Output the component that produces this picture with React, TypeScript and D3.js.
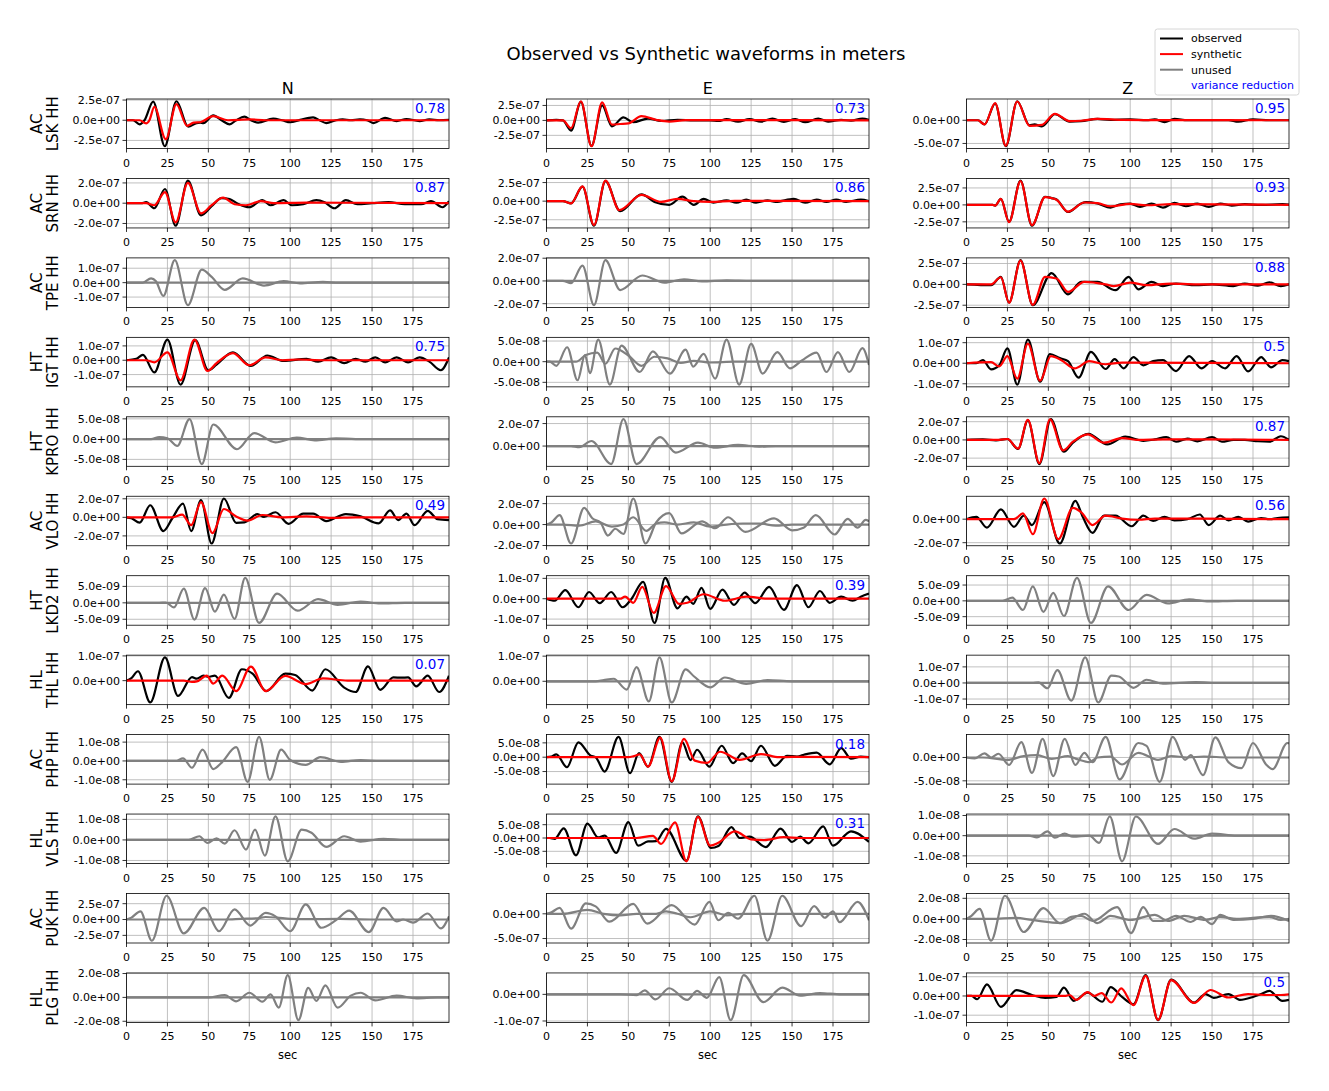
import React from "react";
import * as d3 from "d3";

// waveform samples are flat lists: t0, v0, t1, v1, ... (t in sec, v in units of 10^ampExponent m)
type Series = number[];

const components = ["N", "E", "Z"];
const networks = ["AC", "AC", "AC", "HT", "HT", "AC", "HT", "HL", "AC", "HL", "AC", "HL"];
const stations = ["LSK", "SRN", "TPE", "IGT", "KPRO", "VLO", "LKD2", "THL", "PHP", "VLS", "PUK", "PLG"];
const channel = "HH";

// variance reduction per station [N, E, Z]; null = component not used
const varianceReduction: (number | null)[][] = [
  [0.78, 0.73, 0.95],
  [0.87, 0.86, 0.93],
  [null, null, 0.88],
  [0.75, null, 0.5],
  [null, null, 0.87],
  [0.49, null, 0.56],
  [null, 0.39, null],
  [0.07, null, null],
  [null, 0.18, null],
  [null, 0.31, null],
  [null, null, null],
  [null, null, 0.5],
];

const ampExponent = [
  [-7, -7, -7], [-7, -7, -7], [-7, -7, -7], [-7, -8, -7], [-8, -7, -7], [-7, -7, -7],
  [-9, -7, -9], [-7, -7, -7], [-8, -8, -8], [-8, -8, -8], [-7, -7, -8], [-8, -7, -7],
];
const yTickStep = [
  [2.5, 2.5, 5], [2, 2.5, 2.5], [1, 2, 2.5], [1, 5, 1], [5, 2, 2], [2, 2, 2],
  [5, 1, 5], [1, 1, 1], [1, 5, 5], [1, 5, 1], [2.5, 5, 2], [2, 1, 1],
];
const xTicks = [0, 25, 50, 75, 100, 125, 150, 175];
const timeMax = 197;

const flat: Series = [0, 0, 197, 0];

const obsLSK: Series[] = [
  [0, 0, 4, 0, 8, -0.5, 11, 0, 16.3, 2.3, 23.4, -3.22, 30.5, 2.35, 37.7, -0.8, 42.8, -0.35, 45, -0.3, 47, -0.35, 53, 0.6, 58, 0, 63, -0.5, 67, 0, 72, 0.45, 76, 0, 80.4, -0.3, 89.6, 0.2, 95, 0, 100, -0.25, 106, 0.05, 114, 0.35, 118, 0, 122, -0.35, 128, 0, 132, 0.1, 137, 0, 142.6, 0.1, 147, 0, 151, -0.35, 158, 0.3, 165, -0.1, 171, 0.15, 179, -0.1, 185, 0.1, 191, 0, 197, 0.05],
  [0, 0, 6, 0.1, 10, 0, 15, -1.7, 21, 3.1, 27.5, -4.25, 34, 2.5, 40, -1.0, 47, 0.5, 53, -0.3, 62, 0.3, 70, -0.1, 80, 0.1, 90, 0, 100, 0, 105, -0.1, 110, 0.2, 117, -0.2, 124, 0.2, 131, -0.2, 138, 0.3, 145, -0.25, 152, 0.2, 158, -0.3, 166, 0.3, 172, -0.2, 180, 0.1, 186, -0.05, 193, 0.3, 197, 0.1],
  [0, 0, 7, 0, 11, -0.9, 17.5, 3.6, 24, -5.6, 31, 4.1, 38.5, -1.1, 41.5, -0.9, 46, -1.3, 54, 1.3, 63, -0.3, 70, -0.2, 80, 0.3, 88, 0.1, 100, 0.2, 110, 0, 115, 0.2, 121, -0.4, 127, 0.3, 135, 0, 150, 0, 160, 0.05, 166, -0.3, 175, 0.2, 185, 0, 197, 0],
];
const synLSK: Series[] = [
  [0, 0, 8, 0, 12, -0.4, 14, 0, 17, 1.65, 24, -2.35, 30.5, 2.0, 37, -0.7, 41, -0.3, 45, -0.25, 53, 0.5, 62, 0, 75, 0.1, 85, 0, 197, 0],
  [0, 0, 10, 0, 15, -1.3, 21, 3.2, 27.5, -4.32, 34, 3.0, 40, -0.7, 45, -0.6, 50, -0.5, 58, 0.7, 67, 0.1, 75, -0.2, 85, 0.05, 110, 0.05, 197, 0],
  [0, 0, 7, 0, 11, -0.9, 17.5, 3.7, 24, -5.5, 31, 4.05, 38.5, -1.2, 46, -1.0, 54, 1.4, 63, -0.2, 70, -0.1, 80, 0.3, 95, 0.1, 110, 0.05, 197, 0],
];

const obsSRN: Series[] = [
  [0, 0, 9, 0, 12, 0.1, 17, -0.5, 23.5, 1.4, 30, -2.22, 37.5, 2.22, 45.5, -1.2, 52, -0.3, 58, 0.5, 63, 0.4, 68, -0.05, 75, -0.4, 83, 0.3, 88, -0.2, 96, 0.3, 101, -0.2, 108, -0.1, 116, 0.3, 121, 0.1, 127, -0.5, 134, 0.3, 141, -0.1, 150, 0, 160, 0.1, 170, -0.1, 180, -0.1, 186, 0.2, 193, -0.4, 197, 0.2],
  [0, 0, 10, 0, 15, -0.3, 22, 1.95, 29, -3.3, 36, 2.7, 45, -1.35, 58, 0.9, 66, -0.1, 75, -0.5, 83, 0.6, 90, -0.5, 96, 0.3, 102, -0.2, 110, 0.1, 116, -0.2, 122, 0.2, 128, -0.2, 135, 0.1, 140, -0.1, 151, 0.3, 158, -0.2, 165, 0.2, 171, -0.1, 177, 0.2, 183, -0.1, 192, 0.2, 197, 0],
  [0, 0, 16, 0, 17.5, -0.1, 21, 0.9, 26, -2.5, 33, 3.57, 40, -3.07, 48, 1.2, 52, 1.0, 55, 0.8, 62, -1.05, 70, 0.2, 73, 0.4, 80, 0.2, 88, -0.4, 94, 0.1, 100, 0.2, 106, -0.3, 113, 0.2, 120, -0.4, 127, 0.3, 134, -0.2, 141, 0.2, 148, -0.3, 155, 0.2, 162, -0.1, 170, 0.1, 180, 0, 193, 0.1, 197, 0.05],
];
const synSRN: Series[] = [
  [0, 0, 12, 0, 17, -0.2, 23.5, 1.1, 30, -1.9, 37.5, 2.0, 45.5, -1.0, 52, -0.2, 59, 0.55, 66, -0.1, 73, -0.2, 82, 0.2, 90, 0, 110, 0.05, 197, 0],
  [0, 0, 10, 0, 15, -0.3, 22, 2.0, 29, -3.2, 36, 2.75, 44.5, -1.2, 58, 0.85, 70, -0.1, 80, 0.3, 90, 0, 100, -0.1, 115, 0.05, 197, 0],
  [0, 0, 16, 0, 17.5, -0.1, 21, 0.9, 26, -2.55, 33, 3.5, 40, -3.0, 48, 1.15, 52, 1.0, 55, 0.75, 62, -1.0, 72, 0.35, 80, 0.25, 88, -0.2, 100, 0.15, 110, -0.05, 125, 0.1, 197, 0],
];

const obsTPE: Series[] = [
  [0, 0, 10, 0, 15, 0.3, 18, 0.1, 22.5, -0.92, 29.5, 1.56, 37.5, -1.56, 46, 0.9, 52, 0.4, 60, -0.5, 71, 0.3, 84, -0.2, 96, 0.1, 106, -0.05, 120, 0.05, 130, 0, 197, 0],
  [0, 0, 10, 0, 15, -0.2, 22, 1.35, 29, -2.13, 36, 1.83, 45, -0.8, 58.5, 0.48, 72, -0.15, 84, 0.15, 95, -0.05, 110, 0.05, 125, 0, 197, 0],
  [0, 0, 15, -0.1, 21, 0.9, 26, -2.2, 33, 2.9, 40.5, -2.49, 52, 1.35, 62, -1.2, 70, 0.3, 80, 0.3, 91, -0.7, 99, 0.9, 105, -0.6, 113, 0.3, 120, -0.2, 128, 0.1, 140, -0.1, 150, 0, 163, -0.2, 170, 0.1, 178, -0.15, 185, 0.25, 192, -0.2, 197, 0],
];
const synTPE: Series[] = [
  flat,
  flat,
  [0, 0, 15, 0, 21, 0.85, 26, -2.2, 33, 2.85, 40.5, -2.45, 48, 0.9, 55, 0.7, 62, -0.9, 72, 0.3, 85, 0, 90, -0.2, 100, 0.2, 110, -0.1, 125, 0.1, 140, 0, 197, 0],
];

const obsIGT: Series[] = [
  [0, 0, 6, 0.1, 10, 0.38, 17, -0.85, 25, 1.44, 33, -1.7, 42, 1.4, 50, -0.7, 55, -0.3, 65, 0.55, 76, -0.4, 86, 0.33, 96, -0.05, 110, 0.1, 117, -0.1, 125, 0.2, 133, -0.2, 140, 0.1, 146, -0.1, 152, 0.2, 158, -0.15, 165, 0.2, 172, -0.15, 179, 0.2, 185, -0.1, 192, -0.7, 197, 0.2],
  [0, 0, 2, 0, 6, -1.0, 12.6, 3.5, 19, -4.5, 23.5, 1.6, 26.5, -2.8, 31.6, 5.35, 38.7, -5.55, 45.8, 3.9, 57, -2.5, 65, 2.5, 75.4, -2.9, 85, 2.9, 89.6, -1.2, 96, 1.9, 103, -4.1, 110, 5.35, 117.7, -5.55, 125, 4.3, 132, -2.9, 141, 2.3, 148.7, -1.6, 156, 0.3, 165, 2.2, 171, -2.5, 178, 2.3, 185, -2.5, 193, 3.3, 197, -0.8],
  [0, 0, 6, 0, 10, 0.15, 15, -0.3, 20, -0.1, 25, 0.72, 31, -1.04, 37.5, 1.15, 45, -0.9, 51, 0.45, 57, 0.25, 62, 0.1, 68.5, -0.7, 76, 0.55, 85, -0.28, 90.5, 0.2, 96, -0.25, 102, 0.3, 108, -0.1, 114, 0.1, 120, 0.15, 128, -0.38, 136, 0.35, 143.5, -0.25, 150, 0.1, 158, -0.25, 165, 0.35, 172, -0.4, 180, 0.3, 186, -0.2, 193, 0.15, 197, 0.1],
];
const synIGT: Series[] = [
  [0, 0, 12, 0, 17, -0.15, 25, 0.55, 33, -1.4, 41.5, 1.44, 49.5, -0.75, 55, -0.2, 65, 0.5, 75, -0.35, 85, 0.2, 95, 0, 105, 0.05, 120, 0, 197, 0],
  [0, 0, 18, 0, 24, 1.6, 31, 2.2, 36, -0.5, 42, 3.2, 50, 1.5, 58, -1.0, 66, 1.2, 74, 0.8, 82, -0.3, 90, 0.2, 100, -0.2, 115, 0, 197, 0],
  [0, 0, 15, 0.05, 20, -0.15, 25, 0.35, 31, -0.75, 37.5, 0.95, 45, -0.85, 51.5, 0.35, 58, 0.15, 66, -0.25, 75, 0.1, 85, -0.05, 95, 0.03, 197, 0],
];

const obsKPRO: Series[] = [
  [0, 0, 15, 0, 20, 0.5, 25, 0.2, 31, -1.7, 38.5, 4.95, 46, -6.15, 53, 3.6, 67.5, -2.5, 78, 1.5, 91, -0.8, 104, 0.4, 115, -0.3, 128, 0.2, 140, 0, 197, 0],
  [0, 0, 15, 0, 20, -0.1, 27.5, 0.45, 39.5, -1.6, 47, 2.4, 55, -1.6, 69.5, 0.8, 79, -0.58, 92.5, 0.3, 103, -0.15, 117, 0.1, 130, -0.05, 140, 0, 197, 0],
  [0, 0, 10, 0.05, 18, -0.05, 25, 0.1, 31.5, -1.0, 37.5, 2.15, 44.5, -2.65, 51.5, 2.29, 59.5, -1.3, 65, -0.3, 74.5, 0.67, 86, -0.5, 97, 0.35, 108, -0.1, 115, 0.05, 122, 0.3, 128, -0.2, 135, 0.15, 141, -0.15, 150, 0.3, 156, -0.2, 163, 0, 170, 0, 178, -0.15, 185, -0.2, 192, 0.4, 197, 0],
];
const synKPRO: Series[] = [
  flat,
  flat,
  [0, 0, 20, 0, 25, 0.1, 31.5, -0.95, 37.5, 2.2, 44.5, -2.55, 51, 2.25, 59, -1.15, 65, -0.2, 74, 0.6, 84, -0.3, 95, 0.2, 105, 0, 120, 0.05, 150, 0.05, 197, 0],
];

const obsVLO: Series[] = [
  [0, 0, 3, -0.1, 8, -0.58, 14.5, 1.3, 22.5, -1.48, 28, -0.1, 34.5, 1.48, 39.5, -1.48, 45.5, 1.85, 52, -2.82, 59.5, 2.03, 67, -0.6, 72, -0.55, 80, 0.35, 84, 0.05, 91, 0.55, 99, -0.7, 108, 0.4, 114, 0.4, 122, -0.4, 134, 0.35, 143, 0.1, 154, -0.65, 161, 0.75, 166, -0.3, 171, 0.4, 176, -0.85, 184, 0.7, 190, -0.2, 197, -0.3],
  [0, 0, 3, 0.2, 8, 0.9, 15, -1.81, 23, 1.6, 28, 0.6, 33, 0.2, 37.5, -1.05, 42, -0.4, 47, -0.9, 53, 2.49, 60.5, -1.81, 67, 0.2, 75, 1.1, 82.5, -0.85, 95, 0.3, 103, -0.35, 111, 0.7, 121.5, -0.7, 139, 0.6, 150, -0.55, 157, -0.3, 164.5, 0.9, 176, -0.95, 184, 0.55, 190, -0.3, 195, 0.45, 197, 0.3],
  [0, 0, 6, 0.2, 12.5, -0.72, 21, 0.83, 29, -0.65, 35, 0.3, 40, -0.5, 47.5, 1.45, 57, -2.07, 66.5, 1.55, 71, 0.2, 77, -1.17, 84, 0.3, 91, 0.3, 101, -0.6, 108, 0.3, 114, -0.15, 121, 0.2, 127, -0.1, 135, 0, 142.5, 0.4, 148, -0.5, 155, 0.3, 160, -0.1, 166, 0.2, 172, -0.2, 180, 0.1, 185, 0, 190, 0.1, 197, 0.15],
];
const synVLO: Series[] = [
  [0, 0, 28, 0, 34, 0.3, 39.5, -0.85, 45.5, 1.65, 52.5, -1.7, 59.5, 0.9, 67, 0.1, 74, -0.35, 83, 0.25, 95, 0, 110, 0.1, 125, -0.05, 140, 0, 197, 0],
  [0, 0, 10, 0, 20, -0.1, 30, 0.3, 40, -0.2, 47, 0, 53, 0.7, 61, -0.6, 67, 0.1, 72, 0.2, 80, 0, 90, 0.2, 100, -0.2, 110, 0, 120, 0.1, 130, 0.1, 140, -0.1, 150, 0, 197, 0],
  [0, 0, 28, 0, 30, 0.05, 34.5, 0.5, 40.5, -1.28, 47.5, 1.76, 56, -1.7, 65, 0.97, 70, 0.6, 77, -0.5, 85, 0.3, 95, 0.05, 105, -0.05, 115, 0.05, 197, 0],
];

const obsLKD2: Series[] = [
  [0, 0, 20, 0, 24, 0.1, 29, -1.4, 35, 4.3, 41.5, -5.1, 48, 4.5, 54, -2.7, 59.5, 2.5, 66, -4.9, 72.5, 7.57, 81, -6.12, 92, 2.8, 104.5, -2.4, 117, 1.1, 129, -0.6, 143, 0.4, 155, -0.2, 170, 0, 197, 0],
  [0, 0, 5, -0.1, 11.5, 0.42, 19.5, -0.42, 26, 0.33, 32.5, -0.22, 39.5, 0.33, 46.5, -0.42, 52, 0, 59, 0.83, 66, -1.19, 72.5, 1.02, 80, -0.47, 85.5, 0.1, 89.6, -0.25, 94.7, 0.53, 100, -0.5, 107.5, 0.45, 114.5, -0.3, 121, 0.3, 127.5, -0.22, 136, 0.58, 145, -0.55, 153, 0.67, 160, -0.42, 167, 0.38, 173, -0.2, 180, 0.1, 187, -0.1, 192, 0.1, 197, 0.25],
  [0, 0, 22, 0, 28, 1.0, 34.5, -2.9, 40.5, 4.6, 47, -3.5, 53, 2.5, 59.5, -4.8, 67.5, 7.24, 76, -6.99, 86.5, 4.6, 99, -2.9, 110, 1.9, 123, -0.8, 136, 0.5, 148, -0.2, 165, 0, 197, 0],
];
const synLKD2: Series[] = [
  flat,
  [0, 0, 45, 0, 48, 0.1, 53, -0.2, 58.5, 0.58, 65.5, -0.7, 73, 0.62, 81, -0.25, 86, -0.2, 96, 0.22, 109, -0.1, 122, 0.1, 135, 0, 197, 0],
  flat,
];

const obsTHL: Series[] = [
  [0, 0, 3, 0.1, 7, 0.38, 14.5, -0.88, 23.5, 0.94, 31.5, -0.62, 40, 0.14, 43, 0.08, 47, 0.2, 50, 0.15, 54, 0.2, 62.5, -0.7, 70.5, 0.46, 77, 0.28, 85.5, -0.42, 97, 0.28, 103, 0.23, 113.5, -0.4, 121.5, 0.46, 133, -0.28, 140, -0.46, 147.5, 0.58, 155, -0.37, 163, 0.13, 168, 0.12, 172, 0.13, 177, -0.23, 184, 0.2, 191, -0.46, 197, 0.2],
  [0, 0, 30, 0, 35, 0.05, 41, 0.1, 49, -0.33, 55, 0.56, 62.5, -0.8, 69, 0.95, 76.5, -0.84, 85, 0.47, 90, 0.2, 100, -0.24, 109, 0.15, 122, -0.1, 135, 0.05, 150, 0, 197, 0],
  [0, 0, 40, 0, 44, 0.03, 49.5, -0.33, 55.5, 0.8, 64, -1.1, 72.5, 1.59, 80.5, -1.21, 88.5, 0.45, 93, 0.4, 102, -0.3, 110, 0.2, 120, -0.05, 140, 0.05, 155, 0, 197, 0],
];
const synTHL: Series[] = [
  [0, 0, 35, 0, 40, -0.05, 43, -0.03, 49, 0.2, 53, -0.12, 58.5, 0.2, 67, -0.42, 76, 0.57, 85, -0.42, 97, 0.19, 109.5, -0.14, 120, 0.09, 135, 0, 197, 0],
  flat,
  flat,
];

const obsPHP: Series[] = [
  [0, 0, 30, 0, 34.5, 0.14, 40, -0.36, 46.5, 0.6, 53, -0.43, 58, -0.1, 67, 0.73, 74, -1.11, 81, 1.28, 87.5, -1.0, 94.5, 0.6, 100, 0.05, 109.5, -0.21, 118.5, 0.2, 131, -0.05, 143, 0.05, 155, 0, 197, 0],
  [0, 0, 3, 0.2, 6, 1.0, 12.5, -3.5, 19.5, 5.2, 27, 0.5, 30, 0, 35.5, -5.0, 44, 7.1, 51, -5.6, 56.5, 1.4, 62, -3.3, 69, 7.1, 76.5, -8.6, 83, 5.2, 88, -1.0, 92, 2.6, 99.5, -3.3, 107, 4.0, 114, -2.1, 119.5, 1.3, 125, -1.4, 131, 4.0, 139.5, -3.0, 147, 0.5, 153, 0.2, 158, 1.0, 165, 1.6, 173, -2.5, 180, 3.2, 186, -0.5, 192, 0.2, 197, 0],
  [0, 0, 5, -0.2, 11, 0.9, 15, 0, 19.5, 0.8, 26, -1.6, 33.5, 3.3, 40, -3.3, 46.5, 4.0, 53, -4.0, 60, 4.0, 66.5, -1.6, 72, 1.0, 77, -1.0, 85, 4.42, 93.5, -4.7, 105, 3.1, 110, 2.5, 118, -5.22, 126, 4.42, 133.5, -0.5, 137, 0.5, 144.5, -3.8, 152, 4.3, 160, -1.0, 168, -2.3, 175, 3.1, 183, -1.5, 187, -2.5, 196, 3.1, 197, 3.0],
];
const synPHP: Series[] = [
  flat,
  [0, 0, 50, 0, 53, 0.3, 57, 1.0, 62, -3.3, 69.5, 6.8, 76.5, -8.4, 84, 6.4, 90.6, -1.2, 98, -2.0, 106, 1.9, 118, -0.9, 131, 1.1, 142, 0, 150, 0.1, 197, 0],
  [0, 0, 10, 0, 25, -0.5, 35, 0.3, 43, 0.5, 52, -0.3, 62, 0.3, 68, -0.4, 75, -1.0, 80, 0, 88, 0.2, 95, -1.5, 105, 1.0, 117, -0.5, 125, 0.3, 135, 0, 145, 0.2, 160, 0, 197, 0],
];

const obsVLS: Series[] = [
  [0, 0, 38, 0, 44.5, 0.18, 49.5, -0.15, 55, 0.08, 60, -0.18, 66, 0.47, 73, -0.47, 78.5, 0.5, 84.5, -0.76, 91, 1.15, 98.5, -1.04, 107, 0.5, 113, 0.35, 122, -0.34, 133, 0.18, 143, -0.08, 157, 0.05, 170, 0, 197, 0],
  [0, 0, 2, 0, 5, -0.3, 10.5, 3.6, 18, -6.5, 25, 5.4, 31.5, 0.2, 35.6, 0.9, 42.5, -5.6, 50, 6.0, 56, -2.9, 62, -1.3, 67, -1.2, 73, 3.4, 85.5, -8.5, 92.5, 8.15, 100.5, -3.75, 105, -3.0, 113, 4.1, 118, 0, 124, 0.5, 134, -3.4, 143, 3.5, 150, -1.5, 155, 0.5, 160, -2.0, 169, 4.4, 175, -2.9, 186, 2.5, 197, -1.5],
  [0, 0, 38, 0, 43, -0.08, 49.5, 0.21, 54, -0.1, 60, 0.1, 65, -0.05, 75, 0, 81, -0.36, 87.5, 0.96, 95, -1.27, 103.5, 0.95, 117, -0.41, 127, 0.33, 139, -0.15, 150, 0.1, 165, 0, 197, 0],
];
const synVLS: Series[] = [
  flat,
  [0, 0, 55, 0, 65, 0.8, 70, -2.25, 78.5, 5.9, 85.5, -8.75, 92.5, 7.9, 100, -2.9, 105, -1.8, 115, 2.5, 125, -0.5, 133, -0.8, 145, 0.3, 155, 0, 197, 0],
  flat,
];

const obsPUK: Series[] = [
  [0, 0, 3, 0.3, 8.5, 1.3, 15.5, -3.35, 24.5, 3.75, 35, -2.2, 47.5, 1.85, 56.5, -1.85, 66, 1.6, 75.5, -0.95, 85, 1.05, 91, 0.5, 100, -1.85, 109.5, 2.4, 119, -1.3, 128, -0.1, 136, 1.4, 148, -2.0, 157, 1.85, 165, -0.3, 169, 0, 175, -0.5, 184, 0.95, 192, -1.4, 197, 0.5],
  [0, 0, 3, 0.3, 8, 1.2, 15, -3.0, 24, 2.1, 30, 1.5, 38.5, -1.6, 53, 2.0, 61.5, -2.0, 76.5, 1.75, 90.5, -2.2, 99.5, 2.4, 105, -1.3, 111, 0.2, 117, -1.0, 127, 3.65, 135, -5.45, 144, 3.65, 155.5, -2.5, 163.5, 1.55, 170, -0.8, 175, 0.5, 179, -1.7, 190, 2.4, 197, -1.3],
  [0, 0, 3, 0.3, 8, 0.97, 15, -2.12, 23.5, 2.25, 35, -1.27, 47, 1.04, 57, -0.4, 64, 0.2, 70, 0.3, 77, -0.2, 92, 1.14, 100.5, -1.37, 108, 1.14, 114, -0.2, 120, -0.2, 128, 0.3, 137, -0.3, 143, 0.2, 150, -0.5, 155, 0.4, 163, -0.1, 175, 0, 186, 0.3, 197, -0.2],
];
const synPUK: Series[] = [
  [0, 0, 60, 0, 70, 0.1, 80, 0.2, 85, 0.4, 92, 0.3, 100, 0.1, 110, 0.05, 130, 0.1, 150, 0, 197, 0],
  [0, 0, 10, 0, 25, 0.8, 35, 0, 45, -0.3, 55, 0, 67, 0, 73, 0.5, 80, 0, 88, -0.7, 100, 0.5, 110, -0.3, 120, 0, 197, 0],
  [0, 0, 15, 0, 30, 0.1, 40, -0.1, 58, -0.4, 72, 0.5, 80, -0.4, 88, 0.3, 100, -0.1, 115, 0.4, 123, -0.2, 133, 0.3, 146, -0.1, 155, 0.2, 165, 0, 185, 0.2, 192, -0.1, 197, 0],
];

const obsPLG: Series[] = [
  [0, 0, 50, 0, 60, 0.2, 67, -0.33, 75, 0.39, 83, -0.36, 88, 0.25, 93, -0.86, 98.5, 1.86, 105, -1.91, 111, 0.8, 116, -0.3, 121.5, 1.0, 129, -0.86, 137, 0.15, 143, 0.39, 152, -0.25, 165, 0.15, 177, -0.08, 190, 0, 197, 0],
  [0, 0, 45, 0, 55, -0.03, 60, 0.15, 66.5, -0.19, 75, 0.23, 86, -0.21, 92, 0.13, 98, -0.13, 105.5, 0.65, 112.5, -0.97, 120.5, 0.72, 132.5, -0.29, 144, 0.25, 155, -0.05, 167, 0.05, 180, 0, 197, 0],
  [0, 0, 3, 0, 6.5, -0.17, 12.5, 0.6, 21, -0.57, 30.5, 0.3, 40, 0.05, 48, -0.1, 55, -0.05, 59.5, 0.43, 65.5, -0.25, 74, 0.17, 83, -0.3, 88, 0.46, 95, -0.05, 102, -0.43, 109.5, 1.08, 117, -1.26, 125, 0.85, 139, -0.34, 146, 0.1, 151, -0.1, 160, 0.1, 167, -0.2, 175, -0.05, 180, 0.1, 185, 0.26, 193, -0.26, 197, -0.2],
];
const synPLG: Series[] = [
  flat,
  flat,
  [0, 0, 60, 0, 63, 0.05, 67, -0.2, 74, 0.2, 78, 0, 82.5, 0.15, 88.5, -0.34, 94.5, 0.4, 102, -0.48, 109.5, 1.05, 117, -1.24, 125, 0.82, 139, -0.36, 149, 0.31, 160, -0.08, 172, 0.1, 182, 0.05, 192, 0.05, 197, 0.08],
];

const observed = [obsLSK, obsSRN, obsTPE, obsIGT, obsKPRO, obsVLO, obsLKD2, obsTHL, obsPHP, obsVLS, obsPUK, obsPLG];
const synthetic = [synLSK, synSRN, synTPE, synIGT, synKPRO, synVLO, synLKD2, synTHL, synPHP, synVLS, synPUK, synPLG];

// layout
const W = 1329;
const H = 1091;
const colLeft = [126.5, 546.5, 966.5];
const panelW = 322.5;
const rowTop0 = 99;
const rowPitch = 79.45;
const panelH = 49.5;
const font = "DejaVu Sans, sans-serif";
const gridColor = "#b0b0b0";

const toPoints = (s: Series) =>
  d3.range(0, s.length, 2).map((i) => [s[i], s[i + 1]] as [number, number]);

// matplotlib "%.1e" style
const sci = (v: number) => {
  if (Math.abs(v) < 1e-30) return "0.0e+00";
  const [m, e] = v.toExponential(1).split("e");
  const n = parseInt(e, 10);
  return `${m}e${n < 0 ? "-" : "+"}${String(Math.abs(n)).padStart(2, "0")}`;
};

const Panel = ({ r, c }: { r: number; c: number }) => {
  const left = colLeft[c];
  const top = rowTop0 + r * rowPitch;
  const obs = toPoints(observed[r][c]);
  const syn = toPoints(synthetic[r][c]);
  const vals = [...obs, ...syn].map((d) => d[1]);
  const lo = d3.min(vals) as number;
  const hi = d3.max(vals) as number;
  const pad = (hi - lo) * 0.05;
  const y0 = lo - pad;
  const y1 = hi + pad;

  const x = d3.scaleLinear().domain([0, timeMax]).range([left, left + panelW]);
  const y = d3.scaleLinear().domain([y0, y1]).range([top + panelH, top]);

  const step = yTickStep[r][c];
  const yTicks = d3
    .range(Math.ceil(y0 / step - 1e-9), Math.floor(y1 / step + 1e-9) + 1)
    .map((k) => k * step);
  const scale = Math.pow(10, ampExponent[r][c]);

  const line = d3
    .line<[number, number]>()
    .x((d) => x(d[0]))
    .y((d) => y(d[1]))
    .curve(d3.curveMonotoneX);

  const vr = varianceReduction[r][c];
  const used = vr !== null;
  const clipId = `clip-${r}-${c}`;
  const bottom = top + panelH;

  return (
    <g>
      <clipPath id={clipId}>
        <rect x={left} y={top} width={panelW} height={panelH} />
      </clipPath>
      {xTicks.map((t) => (
        <line key={`gx${t}`} x1={x(t)} x2={x(t)} y1={top} y2={bottom} stroke={gridColor} strokeWidth={0.8} />
      ))}
      {yTicks.map((t) => (
        <line key={`gy${t}`} x1={left} x2={left + panelW} y1={y(t)} y2={y(t)} stroke={gridColor} strokeWidth={0.8} />
      ))}
      <g clipPath={`url(#${clipId})`}>
        <path d={line(obs) ?? ""} fill="none" stroke={used ? "#000000" : "#808080"} strokeWidth={2.2} strokeLinejoin="round" />
        <path d={line(syn) ?? ""} fill="none" stroke={used ? "#ff0000" : "#808080"} strokeWidth={2.2} strokeLinejoin="round" />
      </g>
      <rect x={left} y={top} width={panelW} height={panelH} fill="none" stroke="#000" strokeWidth={0.8} />
      {xTicks.map((t) => (
        <g key={`tx${t}`}>
          <line x1={x(t)} x2={x(t)} y1={bottom} y2={bottom + 4} stroke="#000" strokeWidth={0.8} />
          <text x={x(t)} y={bottom + 18} textAnchor="middle" fontSize={11} fontFamily={font}>
            {t}
          </text>
        </g>
      ))}
      {yTicks.map((t) => (
        <g key={`ty${t}`}>
          <line x1={left - 4} x2={left} y1={y(t)} y2={y(t)} stroke="#000" strokeWidth={0.8} />
          <text x={left - 6.5} y={y(t)} dy="0.36em" textAnchor="end" fontSize={11} fontFamily={font}>
            {sci(t * scale)}
          </text>
        </g>
      ))}
      {used && (
        <text x={left + panelW - 4} y={top + 14} textAnchor="end" fontSize={13.5} fontFamily={font} fill="#0000ff">
          {String(vr)}
        </text>
      )}
    </g>
  );
};

const legendItems = [
  { label: "observed", color: "#000000" },
  { label: "synthetic", color: "#ff0000" },
  { label: "unused", color: "#808080" },
];

export default function App() {
  return (
    <svg
      width={W}
      height={H}
      viewBox={`0 0 ${W} ${H}`}
      style={{ position: "absolute", left: 0, top: 0, background: "#fff", display: "block" }}
    >
      <rect x={0} y={0} width={W} height={H} fill="#fff" />
      <text x={706} y={60} textAnchor="middle" fontSize={18} fontFamily={font}>
        Observed vs Synthetic waveforms in meters
      </text>
      {components.map((comp, c) => (
        <text key={comp} x={colLeft[c] + panelW / 2} y={93.5} textAnchor="middle" fontSize={16} fontFamily={font}>
          {comp}
        </text>
      ))}
      {stations.map((st, r) => {
        const cy = rowTop0 + r * rowPitch + panelH / 2;
        return (
          <g key={st}>
            <text transform={`translate(42,${cy}) rotate(-90)`} textAnchor="middle" fontSize={15} fontFamily={font}>
              {networks[r]}
            </text>
            <text transform={`translate(58,${cy}) rotate(-90)`} textAnchor="middle" fontSize={15} fontFamily={font}>
              {`${st} ${channel}`}
            </text>
            {components.map((comp, c) => (
              <Panel key={comp} r={r} c={c} />
            ))}
          </g>
        );
      })}
      {components.map((comp, c) => (
        <text key={`sec${comp}`} x={colLeft[c] + panelW / 2} y={1059} textAnchor="middle" fontSize={11.5} fontFamily={font}>
          sec
        </text>
      ))}
      <g>
        <rect x={1155} y={29} width={144} height={66} rx={2.5} fill="#fff" fillOpacity={0.8} stroke="#cccccc" strokeWidth={0.8} />
        {legendItems.map((it, i) => {
          const ly = 38.5 + i * 15.6;
          return (
            <g key={it.label}>
              <line x1={1160} x2={1183} y1={ly} y2={ly} stroke={it.color} strokeWidth={2} />
              <text x={1191} y={ly} dy="0.36em" fontSize={11} fontFamily={font}>
                {it.label}
              </text>
            </g>
          );
        })}
        <text x={1191} y={38.5 + 3 * 15.6} dy="0.36em" fontSize={11} fontFamily={font} fill="#0000ff">
          variance reduction
        </text>
      </g>
    </svg>
  );
}
